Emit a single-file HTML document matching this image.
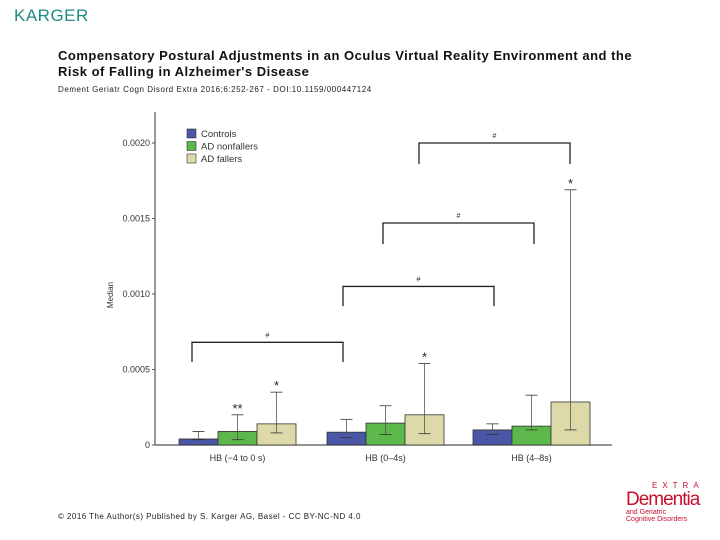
<!DOCTYPE html>
<html><head><meta charset="utf-8"><style>
body{margin:0;width:720px;height:540px;background:#fff;position:relative;overflow:hidden;font-family:"Liberation Sans",sans-serif}
.abs{position:absolute;white-space:nowrap}
</style></head><body>
<div class="abs" style="left:14px;top:6px;font-size:17px;color:#1f8a83;letter-spacing:0.5px">KARGER</div>
<div class="abs" style="left:58px;top:48px;font-size:13px;font-weight:bold;line-height:16px;color:#111;letter-spacing:0.5px">Compensatory Postural Adjustments in an Oculus Virtual Reality Environment and the<br>Risk of Falling in Alzheimer's Disease</div>
<div class="abs" style="left:58px;top:85px;font-size:8px;color:#222;letter-spacing:0.55px">Dement Geriatr Cogn Disord Extra 2016;6:252-267 - DOI:10.1159/000447124</div>
<div class="abs" style="left:58px;top:512px;font-size:8px;color:#222;letter-spacing:0.45px">© 2016 The Author(s) Published by S. Karger AG, Basel - CC BY-NC-ND 4.0</div>
<div class="abs" style="left:626px;top:482px;color:#c8102e;line-height:1">
<div style="font-size:8px;letter-spacing:5px;margin-left:26px">EXTRA</div>
<div style="font-size:19px;letter-spacing:-1px">Dementia</div>
<div style="font-size:7px">and Geriatric<br>Cognitive Disorders</div></div>
<svg id="chart" width="720" height="540" style="position:absolute;left:0;top:0" font-family="Liberation Sans, sans-serif"></svg>
<script>
const categories=["HB (\u22124 to 0 s)","HB (0\u20134s)","HB (4\u20138s)"];
const seriesNames=["Controls","AD nonfallers","AD fallers"];
const controls=[0.00004,0.000085,0.0001];
const nonfallers=[0.00009,0.000145,0.000125];
const fallers=[0.00014,0.0002,0.000285];
const errLow=[[0.000035,0.00005,0.00007],[0.000035,0.00007,0.0001],[0.00008,0.000075,0.0001]];
const errHigh=[[0.00009,0.00017,0.00014],[0.0002,0.00026,0.00033],[0.00035,0.00054,0.00169]];
const yTicks=[0,0.0005,0.001,0.0015,0.002];
const yTickLabels=["0","0.0005","0.0010","0.0015","0.0020"];
const sigMarks=[["","**","*"],["","","*"],["","","*"]];
const bracketTops=[0.00068,0.00105,0.00147,0.002];
const bracketEnds=[0.00055,0.00092,0.00133,0.00186];
const NS="http://www.w3.org/2000/svg";
const svg=document.getElementById('chart');
const colors=["#4a56a6","#5cb84a","#ddd9a9"];
const y0=445,pxPer=75.5/0.0005;
function yS(v){return y0-v*pxPer;}
const groupX=[179,327,473],barW=39;
function xS(g,s){return groupX[g]+s*barW;}
function mk(t,a){const e=document.createElementNS(NS,t);for(const k in a)e.setAttribute(k,a[k]);svg.appendChild(e);return e;}
let e;
e=mk('line',{x1:155,y1:112,x2:155,y2:445,stroke:'#555','stroke-width':1.2});


e=mk('line',{x1:155,y1:445,x2:612,y2:445,stroke:'#555','stroke-width':1.2});


yTicks.forEach((t,i)=>{
 mk('line',{x1:152,x2:155,y1:yS(t),y2:yS(t),stroke:'#555'});
 e=mk('text',{x:150,y:yS(t)+3,'font-size':9,'text-anchor':'end',fill:'#333'});
 e.textContent=yTickLabels[i];
 
 
});
e=mk('text',{x:113,y:295,'font-size':8,'text-anchor':'middle',fill:'#333',transform:'rotate(-90 113 295)'});
e.textContent='Median';


const series=[controls,nonfallers,fallers];
series.forEach((vals,s)=>{vals.forEach((v,g)=>{
 const x=xS(g,s);
 e=mk('rect',{x:x,y:yS(v),width:barW,height:y0-yS(v),fill:colors[s],stroke:'#333','stroke-width':0.8});
 
 
 const cx=x+barW/2,lo=yS(errLow[s][g]),hi=yS(errHigh[s][g]);
 mk('line',{x1:cx,x2:cx,y1:lo,y2:hi,stroke:'#555','stroke-width':0.8});
 mk('line',{x1:cx-6,x2:cx+6,y1:hi,y2:hi,stroke:'#333','stroke-width':0.8});
 mk('line',{x1:cx-6,x2:cx+6,y1:lo,y2:lo,stroke:'#333','stroke-width':0.8});
 if(sigMarks[g][s]){e=mk('text',{x:cx,y:hi-2,'font-size':13,'text-anchor':'middle',fill:'#222'});e.textContent=sigMarks[g][s];
 
 }
});});
categories.forEach((c,g)=>{
 e=mk('text',{x:xS(g,1)+barW/2,y:461,'font-size':9,'text-anchor':'middle',fill:'#333'});
 e.textContent=c;
 
 
});
const bracketStartX=[192,343,383,419];
bracketTops.forEach((top,i)=>{
 const x1=bracketStartX[i],x2=x1+151;
 e=mk('path',{d:`M${x1},${yS(bracketEnds[i])}V${yS(top)}H${x2}V${yS(bracketEnds[i])}`,fill:'none',stroke:'#222','stroke-width':1.3});
 
 
 e=mk('text',{x:(x1+x2)/2,y:yS(top)-5,'font-size':7,'text-anchor':'middle',fill:'#333'});
 e.textContent='#';
 
 
});
seriesNames.forEach((n,s)=>{
 e=mk('rect',{x:187,y:129+s*12.5,width:9,height:9,fill:colors[s],stroke:'#333','stroke-width':0.6});
 
 
 e=mk('text',{x:201,y:137+s*12.5,'font-size':9.5,fill:'#333'});
 e.textContent=n;
 
 
});
</script>
</body></html>
